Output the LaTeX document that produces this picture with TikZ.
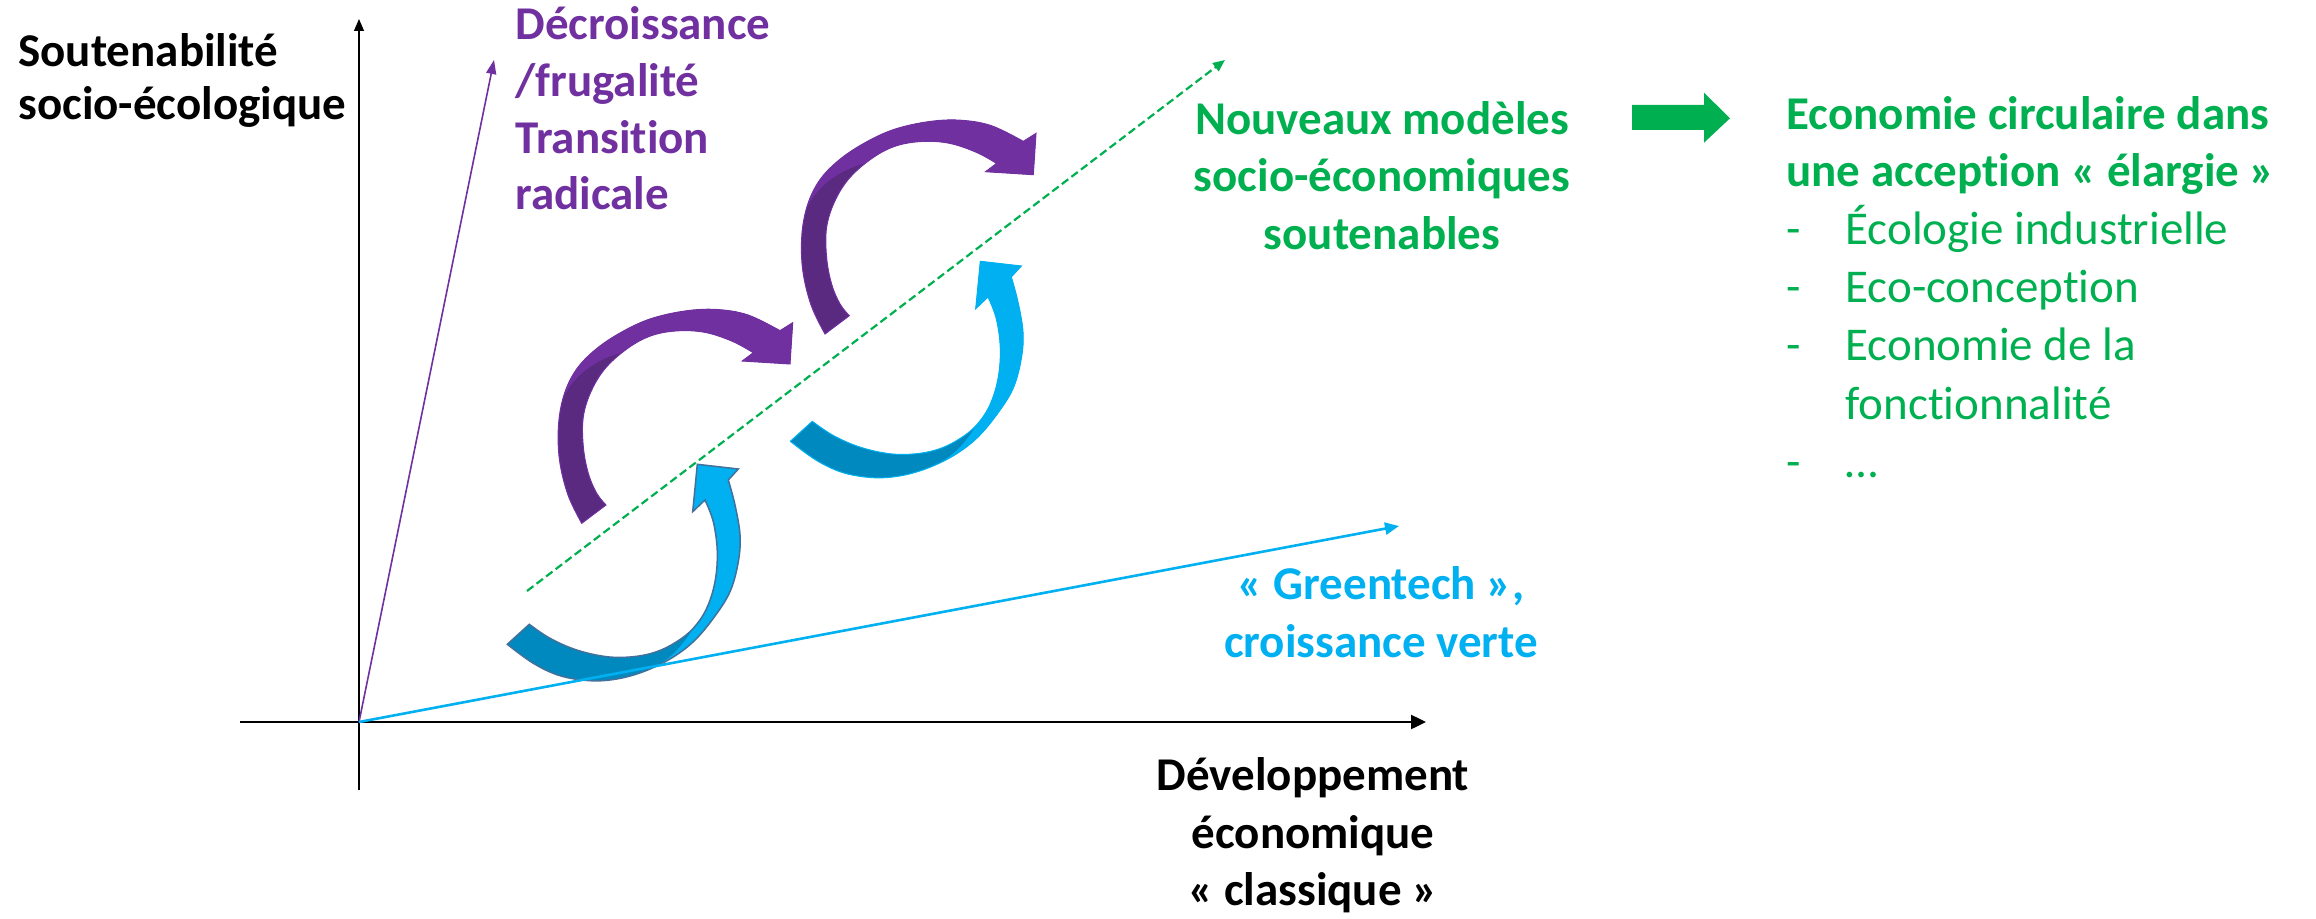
\documentclass[tikz,border=0pt]{standalone}
\usepackage{fontspec}
\setmainfont{Carlito}[Ligatures=NoCommon]
\usetikzlibrary{arrows.meta}
\definecolor{purp}{HTML}{7030A0}
\definecolor{purpdark}{HTML}{592A80}
\definecolor{cyanl}{HTML}{00B0F0}
\definecolor{cyand}{HTML}{0089BE}
\definecolor{steel}{HTML}{41719C}
\definecolor{grn}{HTML}{00B050}
\newcommand\PurpShape{plot[smooth,tension=0.6] coordinates {(581.7,523.3) (568,495) (559.5,460) (558.5,425) (564,395) (576,370) (595,350) (620,333) (650,319) (685,311) (716.7,309.5) (748,315) (780,330.7)} -- (792.7,322.7) -- (790,364) -- (742.3,361) -- plot[smooth,tension=0.6] coordinates {(753.3,352.7) (733.3,341.7) (706.7,332.7) (680,330.7) (653.3,335) (630,346.7) (606.7,366.7) (591.7,390) (583.3,416.7) (583.3,446.7) (588.3,473.3) (596.7,493.3) (606,505)} -- cycle}
\newcommand\PurpLight{(540,420) -- (561,403) .. controls (568,385) and (585,362) .. (624,352) -- (700,400) -- (860,400) -- (860,280) -- (540,280) -- cycle}
\newcommand\BlueShape{plot[smooth,tension=0.6] coordinates {(507.3,644.3) (533.3,663.3) (560,675.7) (590,680.7) (616.7,679) (643.3,671.7) (670,659) (693.3,641.7) (713.3,618.3) (730,591.7) (738.3,561.7) (740,535) (735,505) (728.3,480)} -- (738.3,469) -- (697.3,464.3) -- (692.7,511.7) -- plot[smooth,tension=0.6] coordinates {(705,500) (713.3,521.7) (717.3,551.7) (715,581.7) (706.7,608.3) (693.3,628.3) (676.7,641.7) (656.7,651.7) (633.3,656.7) (606.7,656.7) (576.7,650) (550,638.3) (529.3,624.3)} -- cycle}
\newcommand\BlueLight{(640,600) -- (693.3,628.3) .. controls (680,650) and (665,665) .. (640,673) -- (630,700) -- (790,700) -- (790,440) -- (640,440) -- cycle}
\tikzset{
  bt/.style={inner sep=0pt, font=\fontsize{23.5}{28}\selectfont\bfseries},
  rt/.style={inner sep=0pt, font=\fontsize{23.5}{28}\selectfont},
  axis/.style={line width=0.6pt, -{Triangle[length=6pt,width=5pt]}},
}
\begin{document}
\begin{tikzpicture}[x=0.5pt,y=-0.5pt]
\useasboundingbox (0,0) rectangle (2316,919);
% curved purple arrows
\foreach \sx/\sy in {0/0, 243.3/-189.3} {
  \begin{scope}[shift={(\sx,\sy)}]
    \fill[purpdark] \PurpShape;
    \begin{scope}
      \clip \PurpLight;
      \fill[purp] \PurpShape;
    \end{scope}
    \draw[purp, line width=0.5pt] \PurpShape;
  \end{scope}
}
% curved blue arrows
\begin{scope}
  \fill[cyand] \BlueShape;
  \begin{scope}
    \clip \BlueLight;
    \fill[cyanl] \BlueShape;
  \end{scope}
  \draw[steel, line width=0.75pt] \BlueShape;
\end{scope}
\begin{scope}[shift={(283,-203)}]
  \fill[cyand] \BlueShape;
  \begin{scope}
    \clip \BlueLight;
    \fill[cyanl] \BlueShape;
  \end{scope}
  \draw[cyanl, line width=0.5pt] \BlueShape;
\end{scope}
% axes and lines
\coordinate (O) at (359,722);
\coordinate (ytop) at (359,19);
\coordinate (ybot) at (359,790);
\coordinate (xl) at (240,722);
\coordinate (xr) at (1426,722);
\coordinate (ptip) at (494,60);
\coordinate (btip) at (1399,526);
\coordinate (gs) at (527,591);
\coordinate (gtip) at (1225,60);
\draw[axis] (ybot) -- (ytop);
\draw[line width=1.2pt, -{Triangle[length=7.5pt,width=7pt]}] (xl) -- (xr);
\draw[purp, line width=0.8pt, -{Triangle[length=7pt,width=5pt]}] (O) -- (ptip);
\draw[cyanl, line width=1.3pt, -{Triangle[length=7pt,width=6pt]}] (O) -- (btip);
\draw[grn, line width=1.1pt, dash pattern=on 4pt off 2pt, -{Triangle[length=6pt,width=5pt]}] (gs) -- (gtip);
% green block arrow
\fill[grn] (1632,105) -- (1704,105) -- (1704,92.7) -- (1730,118.3) -- (1704,142.7) -- (1704,130) -- (1632,130) -- cycle;
% texts
\node[bt, anchor=base west] (ylab1) at (18,66.7) {Soutenabilité};
\node[bt, anchor=base west] (ylab2) at (18,120) {socio-écologique};
\node[bt, purp, anchor=base west] (d1) at (515,40) {Décroissance};
\node[bt, purp, anchor=base west] (d2) at (515,96.7) {/frugalité};
\node[bt, purp, anchor=base west] (d3) at (515,153.3) {Transition};
\node[bt, purp, anchor=base west] (d4) at (515,210) {radicale};
\node[bt, grn, anchor=base] (n1) at (1382,135) {Nouveaux modèles};
\node[bt, grn, anchor=base] (n2) at (1382,192) {socio-économiques};
\node[bt, grn, anchor=base] (n3) at (1382,250) {soutenables};
\node[bt, grn, anchor=base west] (e1) at (1786,130) {Economie circulaire dans};
\node[bt, grn, anchor=base west] (e2) at (1786,187) {une acception « élargie »};
\node[rt, grn, anchor=base west] (b1) at (1786,245) {-};
\node[rt, grn, anchor=base west] (b2) at (1786,303) {-};
\node[rt, grn, anchor=base west] (b3) at (1786,361) {-};
\node[rt, grn, anchor=base west] (b4) at (1786,477) {-};
\node[rt, grn, anchor=base west] (i1) at (1845,245) {Écologie industrielle};
\node[rt, grn, anchor=base west] (i2) at (1845,303) {Eco-conception};
\node[rt, grn, anchor=base west] (i3) at (1845,361) {Economie de la};
\node[rt, grn, anchor=base west] (i3b) at (1845,419) {fonctionnalité};
\node[rt, grn, anchor=base west] (i4) at (1845,477) {…};
\node[bt, cyanl, anchor=base] (g1) at (1381,599) {« Greentech »,};
\node[bt, cyanl, anchor=base] (g2) at (1381,657) {croissance verte};
\node[bt, anchor=base] (x1) at (1313,790) {Développement};
\node[bt, anchor=base] (x2) at (1313,848) {économique};
\node[bt, anchor=base] (x3) at (1313,905) {« classique »};
\end{tikzpicture}
\end{document}
